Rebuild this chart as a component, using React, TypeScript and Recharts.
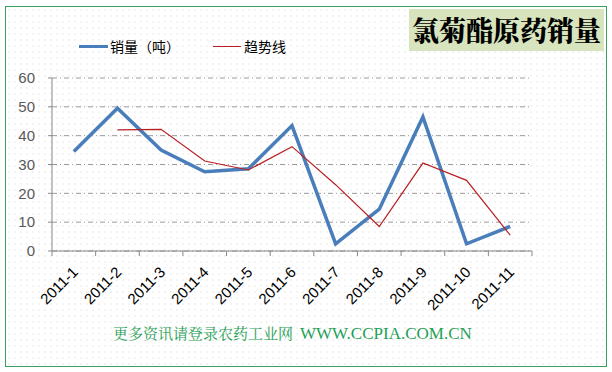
import React from "react";
import { ComposedChart, Line, XAxis, YAxis, CartesianGrid } from "recharts";

const categories = ["2011-1", "2011-2", "2011-3", "2011-4", "2011-5", "2011-6", "2011-7", "2011-8", "2011-9", "2011-10", "2011-11"];
const sales = [34.5, 49.5, 35, 27.5, 28.5, 43.5, 2.5, 14.5, 46.5, 2.5, 8.5];
const trend: (number | null)[] = [null, 42, 42.2, 31.2, 28.1, 36.2, 23, 8.5, 30.5, 24.5, 5.5];
const yTicks = [0, 10, 20, 30, 40, 50, 60];

const data = categories.map((c, i) => ({ name: c, sales: sales[i], trend: trend[i] }));

const PLOT_LEFT = 52;
const PLOT_RIGHT = 532;
const BW = (PLOT_RIGHT - PLOT_LEFT) / categories.length;

const XTick = (props: any) => {
  const { x, y, payload, index } = props;
  return (
    <g>
      <line x1={x - BW / 2} x2={x - BW / 2} y1={y - 8} y2={y - 3} stroke="#888" />
      {index === categories.length - 1 && (
        <line x1={x + BW / 2} x2={x + BW / 2} y1={y - 8} y2={y - 3} stroke="#888" />
      )}
      <text
        x={x + 5}
        y={y + 14}
        textAnchor="end"
        transform={`rotate(-45, ${x + 5}, ${y + 14})`}
        fontSize={15}
        fontFamily="'Liberation Sans', Arial, sans-serif"
        fill="#000"
      >
        {payload.value}
      </text>
    </g>
  );
};

export default function App() {
  return (
    <div
      style={{
        position: "absolute",
        left: 0,
        top: 0,
        width: 612,
        height: 372,
        background: "#fff",
        overflow: "hidden",
      }}
    >
      <div
        style={{
          position: "absolute",
          left: 5,
          top: 6,
          width: 600,
          height: 359,
          border: "1px solid #3aa060",
          backgroundImage: "radial-gradient(#e4e4e4 0.6px, transparent 0.8px)",
          backgroundSize: "6px 6px",
        }}
      />
      <div
        style={{
          position: "absolute",
          left: 409,
          top: 9,
          width: 195,
          height: 42,
          background: "#d7e4bd",
        }}
      />
      <div
        style={{
          position: "absolute",
          left: 407,
          top: 9,
          width: 199,
          height: 42,
          lineHeight: "42px",
          textAlign: "center",
          fontFamily: "'Noto Serif CJK SC', 'Noto Sans CJK SC', serif",
          fontWeight: 900,
          fontSize: 27,
          color: "#000",
          whiteSpace: "nowrap",
        }}
      >
        氯菊酯原药销量
      </div>
      <div style={{ position: "absolute", left: 0, top: 36, width: 612, height: 20, fontFamily: "'Noto Sans CJK SC', sans-serif", fontSize: 14, color: "#000" }}>
        <div style={{ position: "absolute", left: 79, top: 9, width: 29, height: 3, background: "#4a7ebb" }} />
        <div style={{ position: "absolute", left: 110, top: 0, lineHeight: "20px" }}>销量（吨）</div>
        <div style={{ position: "absolute", left: 213, top: 10, width: 28, height: 1, background: "#b81f23" }} />
        <div style={{ position: "absolute", left: 244, top: 0, lineHeight: "20px" }}>趋势线</div>
      </div>
      <div style={{ position: "absolute", left: 0, top: 0 }}>
        <ComposedChart
          width={612}
          height={372}
          data={data}
          margin={{ top: 78, right: 612 - PLOT_RIGHT, bottom: 61, left: 12 }}
        >
          <CartesianGrid vertical={false} stroke="#9a9a9a" strokeDasharray="5 3 1 3" />
          <XAxis
            dataKey="name"
            scale="band"
            height={60}
            axisLine={{ stroke: "#888" }}
            tickLine={false}
            tick={<XTick />}
            interval={0}
          />
          <YAxis
            domain={[0, 60]}
            ticks={yTicks}
            width={40}
            axisLine={{ stroke: "#888" }}
            tickLine={{ stroke: "#888" }}
            tickSize={4}
            dx={-11}
            tick={{ fill: "#595959", fontSize: 15, fontFamily: "'Liberation Sans', Arial, sans-serif" }}
          />
          <Line
            dataKey="sales"
            stroke="#4a7ebb"
            strokeWidth={3.5}
            dot={false}
            isAnimationActive={false}
          />
          <Line
            dataKey="trend"
            stroke="#b81f23"
            strokeWidth={1.2}
            dot={false}
            connectNulls={false}
            isAnimationActive={false}
          />
        </ComposedChart>
      </div>
      <div
        style={{
          position: "absolute",
          left: 113,
          top: 322,
          whiteSpace: "nowrap",
          color: "#1fa055",
          lineHeight: "22px",
        }}
      >
        <span style={{ fontSize: 15, fontFamily: "'Noto Serif CJK SC', 'Noto Sans CJK SC', serif" }}>更多资讯请登录农药工业网</span>
        <span style={{ fontSize: 17, fontFamily: "'Liberation Serif', serif", marginLeft: 7 }}>WWW.CCPIA.COM.CN</span>
      </div>
    </div>
  );
}
